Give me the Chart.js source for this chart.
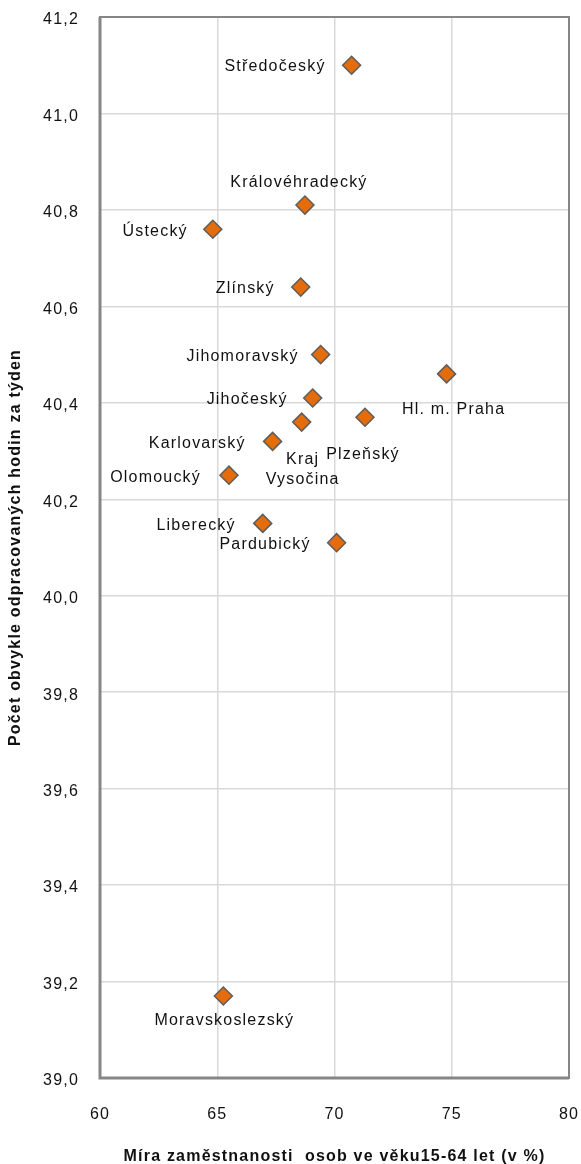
<!DOCTYPE html>
<html><head><meta charset="utf-8">
<script src="https://cdn.jsdelivr.net/npm/chart.js@4.4.1/dist/chart.umd.min.js"></script>
<style>html,body{margin:0;padding:0;background:#fff;}canvas{display:block;}</style>
</head><body>
<canvas id="c" width="581" height="1164"></canvas>
<script>
// ---- data ----
const regions = ['Středočeský','Královéhradecký','Ústecký','Zlínský','Jihomoravský','Hl. m. Praha','Jihočeský','Plzeňský','Kraj Vysočina','Karlovarský','Olomoucký','Liberecký','Pardubický','Moravskoslezský'];
const employmentRate = [70.73, 68.74, 64.81, 68.56, 69.41, 74.78, 69.07, 71.30, 68.60, 67.36, 65.50, 66.94, 70.09, 65.26];
const weeklyHours = [41.10, 40.81, 40.76, 40.64, 40.50, 40.46, 40.41, 40.37, 40.36, 40.32, 40.25, 40.15, 40.11, 39.17];
const xTicks = [60, 65, 70, 75, 80];
const yTicks = [39.0, 39.2, 39.4, 39.6, 39.8, 40.0, 40.2, 40.4, 40.6, 40.8, 41.0, 41.2];
const xTitle = 'Míra zaměstnanosti  osob ve věku15-64 let (v %)';
const yTitle = 'Počet obvykle odpracovaných hodin za týden';

// ---- label placement (style, pixel offsets from the marker) ----
const labelPlacement = {
  'Středočeský':     {align:'right',  dx:-26, dy:1},
  'Královéhradecký': {align:'center', dx:-6,  dy:-22},
  'Ústecký':         {align:'right',  dx:-25, dy:2},
  'Zlínský':         {align:'right',  dx:-26, dy:2},
  'Jihomoravský':    {align:'right',  dx:-22, dy:2},
  'Hl. m. Praha':    {align:'center', dx:7,   dy:36},
  'Jihočeský':       {align:'right',  dx:-25, dy:2},
  'Plzeňský':        {align:'center', dx:-2,  dy:37},
  'Kraj Vysočina':   {align:'center', dx:1,   dy:37, lines:['Kraj','Vysočina']},
  'Karlovarský':     {align:'right',  dx:-27, dy:2},
  'Olomoucký':       {align:'right',  dx:-28, dy:2},
  'Liberecký':       {align:'right',  dx:-27, dy:2},
  'Pardubický':      {align:'right',  dx:-26, dy:2},
  'Moravskoslezský': {align:'center', dx:1,   dy:25}
};

const FONT = "'Liberation Sans', Arial, sans-serif";
const LS = '1.2px';

const spacingPlugin = {
  id: 'spacing',
  beforeLayout(chart){ chart.ctx.letterSpacing = LS; },
  beforeDraw(chart){ chart.ctx.letterSpacing = LS; }
};

const frameAndLabels = {
  id: 'frameAndLabels',
  beforeDatasetsDraw(chart){
    const {ctx, chartArea:a} = chart;
    ctx.save();
    ctx.strokeStyle = '#868686';
    ctx.lineWidth = 2;
    ctx.strokeRect(a.left, a.top, a.right - a.left, a.bottom - a.top);
    ctx.lineWidth = 3;
    ctx.beginPath();
    ctx.moveTo(a.left, a.top); ctx.lineTo(a.left, a.bottom); ctx.lineTo(a.right, a.bottom);
    ctx.stroke();
    ctx.restore();
  },
  afterDatasetsDraw(chart){
    const {ctx} = chart;
    const xs = chart.scales.x, ys = chart.scales.y;
    ctx.save();
    ctx.letterSpacing = LS;
    ctx.font = '16px ' + FONT;
    ctx.fillStyle = '#111111';
    ctx.textBaseline = 'middle';
    regions.forEach((name, i) => {
      const p = labelPlacement[name];
      const px = xs.getPixelForValue(employmentRate[i]);
      const py = ys.getPixelForValue(weeklyHours[i]);
      ctx.textAlign = p.align;
      const lines = p.lines || [name];
      lines.forEach((t, k) => ctx.fillText(t, px + p.dx, py + p.dy + k * 20));
    });
    ctx.restore();
  }
};

new Chart(document.getElementById('c'), {
  type: 'scatter',
  data: {
    datasets: [{
      data: employmentRate.map((x, i) => ({x, y: weeklyHours[i]})),
      pointStyle: 'rectRot',
      pointRadius: 9,
      pointHoverRadius: 9,
      backgroundColor: '#E46C0A',
      borderColor: '#5E5E5E',
      borderWidth: 1.5
    }]
  },
  options: {
    responsive: false,
    devicePixelRatio: 1,
    animation: false,
    events: [],
    layout: {padding: {left: 0, right: 12, top: 17, bottom: 0}},
    plugins: {legend: {display: false}, tooltip: {enabled: false}},
    scales: {
      x: {
        type: 'linear', min: 60, max: 80,
        afterBuildTicks: s => { s.ticks = xTicks.map(v => ({value: v})); },
        afterFit: s => { s.height = 86; s.paddingLeft = 0; s.paddingRight = 0; },
        grid: {color: '#D9D9D9', lineWidth: 1.5, drawTicks: false},
        border: {display: false},
        ticks: {padding: 27, color: '#111111', font: {family: FONT, size: 16}, maxRotation: 0},
        title: {display: true, text: xTitle, color: '#111111', font: {family: FONT, size: 16, weight: 'bold'}, padding: {top: 0, bottom: -2}}
      },
      y: {
        type: 'linear', min: 39.0, max: 41.2,
        afterBuildTicks: s => { s.ticks = yTicks.map(v => ({value: v})); },
        afterFit: s => { s.width = 100; s.paddingTop = 0; s.paddingBottom = 0; },
        grid: {color: '#D9D9D9', lineWidth: 1.5, drawTicks: false},
        border: {display: false},
        ticks: {padding: 21, labelOffset: 3, color: '#111111', font: {family: FONT, size: 16},
                callback: v => v.toFixed(1).replace('.', ',')},
        title: {display: true, text: yTitle, color: '#111111', font: {family: FONT, size: 16, weight: 'bold'}, padding: {top: 6, bottom: 0}}
      }
    }
  },
  plugins: [spacingPlugin, frameAndLabels]
});
</script>
</body></html>
